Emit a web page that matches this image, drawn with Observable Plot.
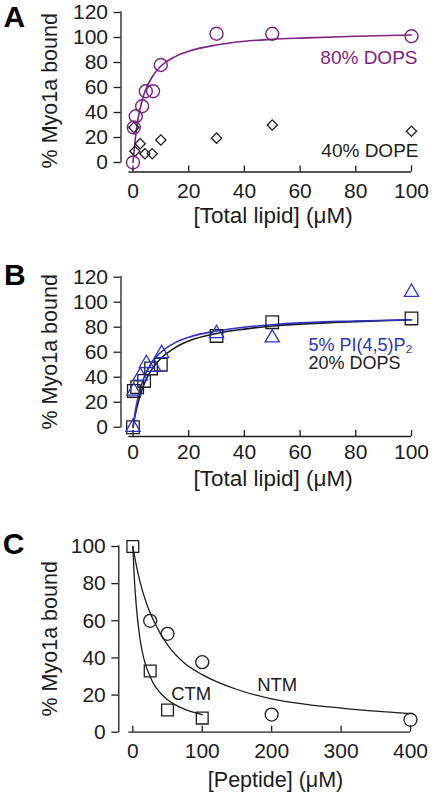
<!DOCTYPE html>
<html>
<head>
<meta charset="utf-8">
<script src="https://cdn.jsdelivr.net/npm/d3@7"></script>
<script src="https://cdn.jsdelivr.net/npm/@observablehq/plot@0.6"></script>
<style>
  html, body { margin: 0; padding: 0; background: #fff; }
  #wrap { position: relative; width: 432px; height: 792px; overflow: hidden; background: #fff; }
  .panel { position: absolute; left: 0; }
</style>
</head>
<body>
<div id="wrap"></div>
<script>
const FONT = "'Liberation Sans', Arial, Helvetica, sans-serif";
const purple = "#7d2382";
const blue = "#2a33c6";
const ink = "#1c1c1c";

// ---------- Panel A ----------
const aDopsX = [0, 0.3, 1, 3.3, 4.6, 7.2, 10, 30, 50, 100];
const aDopsY = [0, 28, 37, 45, 57, 57, 78, 103, 103, 101];
const aDopeX = [0.3, 0.7, 2.6, 4.3, 6.9, 10, 30, 50, 100];
const aDopeY = [28, 9, 15, 7, 7, 18, 19.5, 30, 25];
const aFitX = [0, 1, 2, 3, 4, 5, 6, 8, 10, 15, 20, 30, 40, 50, 60, 80, 100];
const aFitY = [0, 22, 37, 47, 55, 60.5, 65, 72, 77, 84.5, 89, 94, 97, 98.5, 99.5, 101, 102];
const aXTicks = [0, 20, 40, 60, 80, 100];
const aYTicks = [0, 20, 40, 60, 80, 100, 120];

// ---------- Panel B ----------
const bDopsX = [0, 0.3, 1.5, 4, 6.5, 10, 30, 50, 100];
const bDopsY = [0, 29, 32, 37, 47, 50, 73, 84, 87];
const bPipX = [0, 0.3, 2.6, 4.8, 7.5, 10.3, 30, 50, 100];
const bPipY = [0, 29, 41, 51, 48, 59, 75, 71.5, 108];
const bFitX = [0, 1, 2, 3, 4, 5, 6, 8, 10, 15, 20, 30, 40, 50, 60, 80, 100];
const bDopsFitY = [0, 12, 21, 28.5, 34.5, 39.5, 43.5, 50, 55, 63.5, 69, 75, 78.5, 81, 82.5, 84.5, 86];
const bPipFitY = [0, 15, 25.5, 33.5, 40, 45, 49, 55.5, 60, 67.5, 72, 77, 80, 82, 83.5, 85, 86];
const bXTicks = [0, 20, 40, 60, 80, 100];
const bYTicks = [0, 20, 40, 60, 80, 100, 120];

// ---------- Panel C ----------
const cCtmX = [0, 25, 50, 100];
const cCtmY = [100, 33, 12, 7.6];
const cNtmX = [25, 50, 100, 200, 400];
const cNtmY = [60, 53, 37.7, 9.5, 6.7];
const cCtmFitX = [0, 2, 5, 10, 15, 20, 25, 30, 40, 50, 60, 75, 100];
const cCtmFitY = [100, 84, 68, 51, 41, 34.5, 30, 26, 21, 17.5, 15, 12.3, 9.5];
const cNtmFitX = [0, 5, 10, 20, 30, 50, 75, 100, 150, 200, 250, 300, 350, 400];
const cNtmFitY = [100, 90, 81.5, 69, 60, 47, 37, 31, 23, 18, 15, 13, 11.3, 10];
const cXTicks = [0, 100, 200, 300, 400];
const cYTicks = [0, 20, 40, 60, 80, 100];

const yTitle = "% Myo1a bound";
const lipidTitle = "[Total lipid] (\u03bcM)";
const peptideTitle = "[Peptide] (\u03bcM)";

function panel(o) {
  const {xDom, yDom, xTicks, yTicks} = o;
  return Plot.plot({
    width: 432, height: o.height,
    marginLeft: o.mL, marginRight: o.mR, marginTop: o.mT, marginBottom: o.mB,
    x: {domain: xDom}, y: {domain: yDom},
    style: {fontFamily: FONT, fontSize: "21px", color: ink, background: "transparent", overflow: "visible"},
    marks: [
      ...o.marks,
      Plot.ruleX([xDom[0]], {y1: yTicks[0], y2: yTicks[yTicks.length - 1], stroke: ink, strokeWidth: 1.3, strokeLinecap: "square"}),
      Plot.ruleY([yDom[0]], {x1: xTicks[0], x2: xTicks[xTicks.length - 1], insetLeft: -4, stroke: ink, strokeWidth: 1.3}),
      Plot.axisY({ticks: yTicks, tickSize: 7, tickPadding: 6, label: null, stroke: ink, strokeWidth: 1.3, fill: ink, fontSize: 21}),
      Plot.axisX({ticks: xTicks, tickSize: -6, fill: "none", label: null, stroke: ink, strokeWidth: 1.3}),
      Plot.axisX({ticks: xTicks, tickSize: 0, tickPadding: o.xTickPad, label: null, fill: ink, fontSize: 21}),
      Plot.text([yTitle], {frameAnchor: "left", rotate: -90, dx: o.yLabelDx, dy: o.yLabelDy, fontSize: 21.5, fill: ink, lineAnchor: "middle", textAnchor: "middle"}),
      Plot.text([o.xTitle], {frameAnchor: "bottom", dx: o.xLabelDx, dy: o.xLabelDy, fontSize: o.xTitleSize, fill: ink, lineAnchor: "middle", textAnchor: "middle"}),
      Plot.text([o.letter], {frameAnchor: "top-left", dx: o.letterDx, dy: o.letterDy, fontSize: 30, fontWeight: "bold", fill: "#000", textAnchor: "start", lineAnchor: "top"})
    ]
  });
}

const wrap = document.getElementById("wrap");
function place(svg, top) {
  const d = document.createElement("div");
  d.className = "panel";
  d.style.top = top + "px";
  d.appendChild(svg);
  wrap.appendChild(d);
}

// Panel A
place(panel({
  height: 240, mL: 120.5, mR: 21, mT: 12, mB: 68.5,
  xDom: [-4.3, 100], yDom: [-7.6, 120], xTicks: aXTicks, yTicks: aYTicks,
  xTickPad: 11.5, yLabelDx: -70.5, yLabelDy: -1.5,
  xTitle: lipidTitle, xTitleSize: 22.5, xLabelDx: 6.75, xLabelDy: 43.5,
  letter: "A", letterDx: -117.5, letterDy: -6.5,
  marks: [
    Plot.line(aFitX, {x: aFitX, y: aFitY, stroke: purple, strokeWidth: 1.6, curve: "monotone-x"}),
    Plot.dot(aDopeX, {x: aDopeX, y: aDopeY, symbol: "diamond2", r: 4.6, stroke: ink, strokeWidth: 1.3, fill: "none"}),
    Plot.dot(aDopsX, {x: aDopsX, y: aDopsY, symbol: "circle", r: 6.5, stroke: purple, strokeWidth: 1.4, fill: "none"}),
    Plot.text(["80% DOPS"], {frameAnchor: "top-right", dx: 6, dy: 45.5, fontSize: 19, fill: purple, textAnchor: "end", lineAnchor: "middle"}),
    Plot.text(["40% DOPE"], {frameAnchor: "top-right", dx: 7, dy: 138.8, fontSize: 19, fill: ink, textAnchor: "end", lineAnchor: "middle"})
  ]
}), 0);

// Panel B
place(panel({
  height: 260, mL: 120.5, mR: 21, mT: 16.7, mB: 84,
  xDom: [-4.3, 100], yDom: [-7.4, 120], xTicks: bXTicks, yTicks: bYTicks,
  xTickPad: 8, yLabelDx: -70.5, yLabelDy: -5,
  xTitle: lipidTitle, xTitleSize: 22.5, xLabelDx: 6.75, xLabelDy: 42.5,
  letter: "B", letterDx: -117, letterDy: -13.4,
  marks: [
    Plot.line(bFitX, {x: bFitX, y: bDopsFitY, stroke: ink, strokeWidth: 1.6, curve: "monotone-x"}),
    Plot.line(bFitX, {x: bFitX, y: bPipFitY, stroke: blue, strokeWidth: 1.6, curve: "monotone-x"}),
    Plot.dot(bDopsX, {x: bDopsX, y: bDopsY, symbol: "square2", r: 8, stroke: ink, strokeWidth: 1.3, fill: "none"}),
    Plot.dot(bPipX, {x: bPipX, y: bPipY, symbol: "triangle2", r: 6.8, stroke: blue, strokeWidth: 1.3, fill: "none"}),
    Plot.text(["5% PI(4,5)P\u2082"], {frameAnchor: "top-left", dx: 187.5, dy: 68, fontSize: 18, fill: blue, textAnchor: "start", lineAnchor: "middle"}),
    Plot.text(["20% DOPS"], {frameAnchor: "top-left", dx: 187.5, dy: 86.5, fontSize: 18, fill: ink, textAnchor: "start", lineAnchor: "middle"})
  ]
}), 260);

// Panel C
place(panel({
  height: 262, mL: 118.3, mR: 22, mT: 16, mB: 60.3,
  xDom: [-20.2, 400], yDom: [0, 100], xTicks: cXTicks, yTicks: cYTicks,
  xTickPad: 11, yLabelDx: -68.3, yLabelDy: -0.5,
  xTitle: peptideTitle, xTitleSize: 21.5, xLabelDx: 10.9, xLabelDy: 48.3,
  letter: "C", letterDx: -116, letterDy: -14.3,
  marks: [
    Plot.line(cNtmFitX, {x: cNtmFitX, y: cNtmFitY, stroke: ink, strokeWidth: 1.3, curve: "monotone-x"}),
    Plot.line(cCtmFitX, {x: cCtmFitX, y: cCtmFitY, stroke: ink, strokeWidth: 1.3, curve: "monotone-x"}),
    Plot.dot(cNtmX, {x: cNtmX, y: cNtmY, symbol: "circle", r: 6.5, stroke: ink, strokeWidth: 1.3, fill: "none"}),
    Plot.dot(cCtmX, {x: cCtmX, y: cCtmY, symbol: "square2", r: 7.5, stroke: ink, strokeWidth: 1.3, fill: "none"}),
    Plot.text(["CTM"], {frameAnchor: "top-left", dx: 72.4, dy: 147.3, fontSize: 18.5, fill: ink, textAnchor: "middle", lineAnchor: "middle"}),
    Plot.text(["NTM"], {frameAnchor: "top-left", dx: 158.4, dy: 139, fontSize: 18.5, fill: ink, textAnchor: "middle", lineAnchor: "middle"})
  ]
}), 530);
</script>
</body>
</html>
